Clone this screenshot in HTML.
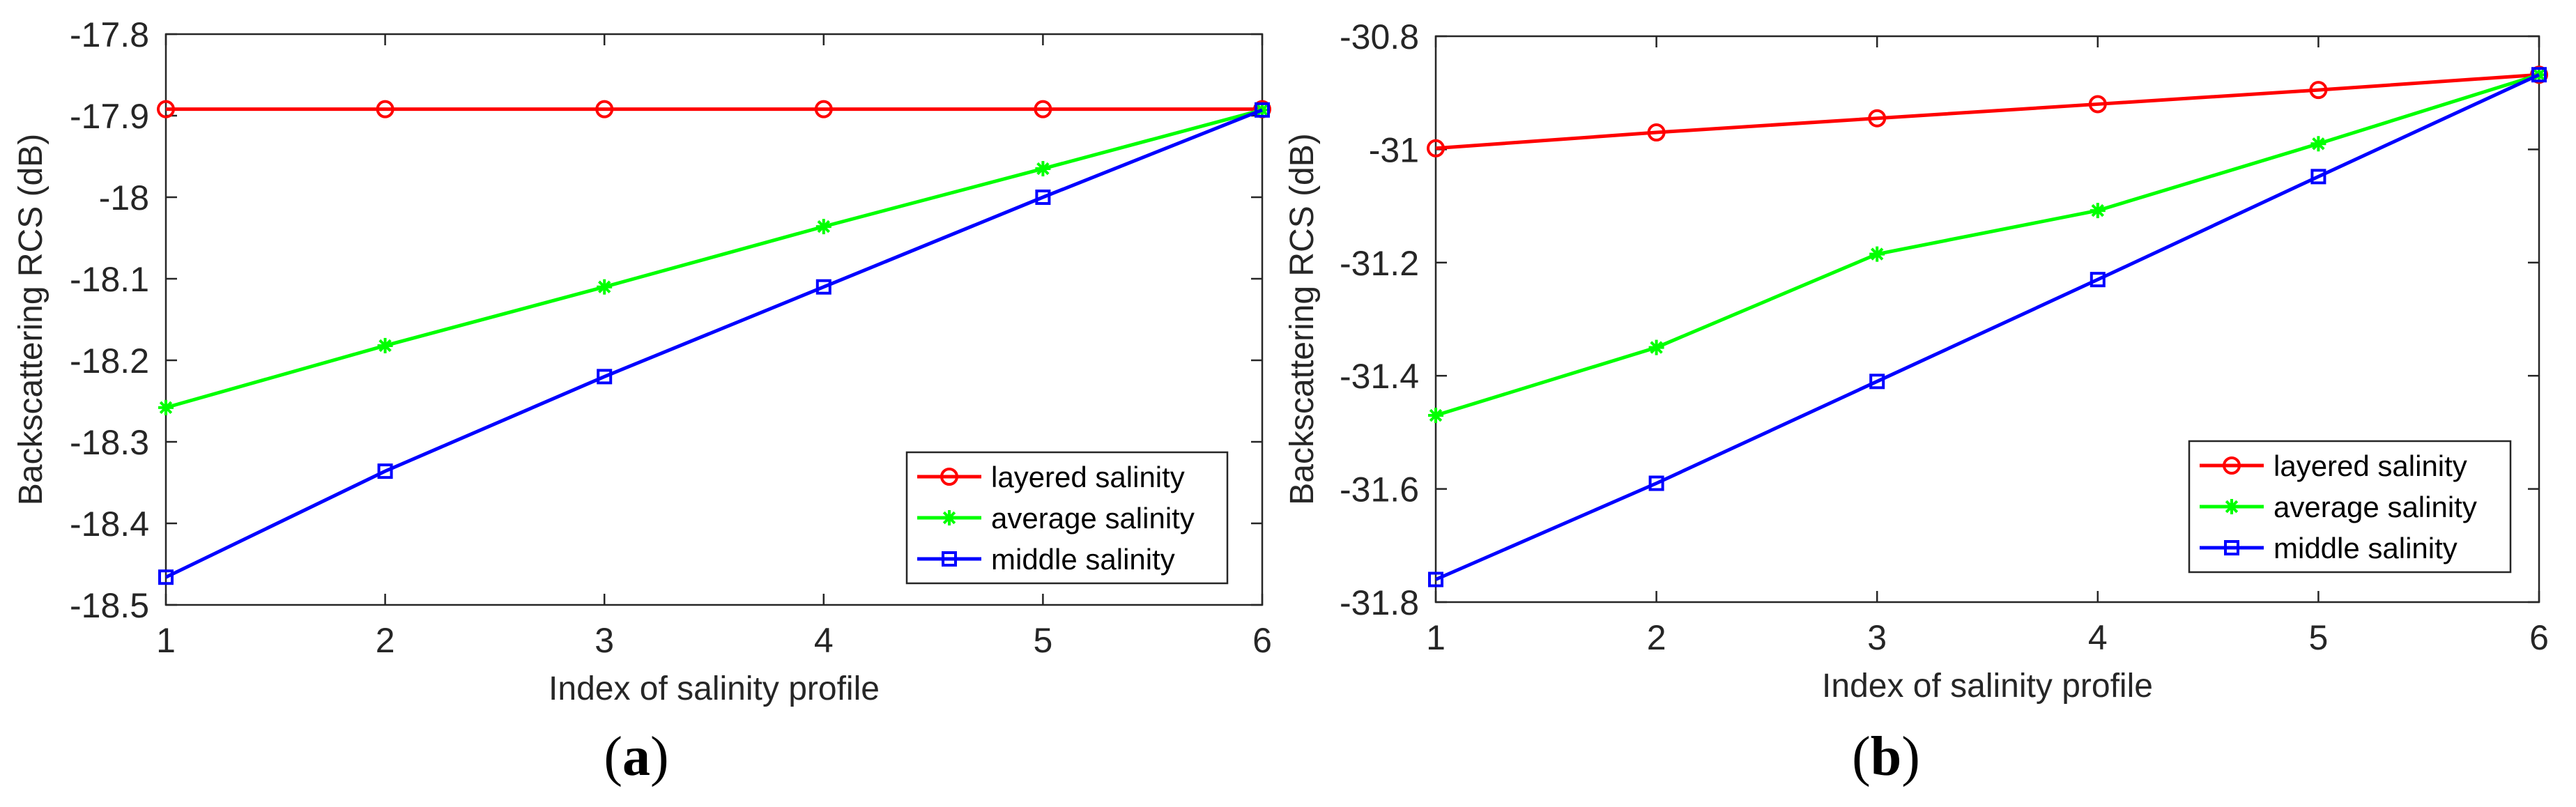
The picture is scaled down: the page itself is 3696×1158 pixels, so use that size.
<!DOCTYPE html>
<html><head><meta charset="utf-8"><style>
html,body{margin:0;padding:0;background:#fff;}
svg{display:block;font-family:"Liberation Sans",sans-serif;}
</style></head><body>
<svg id="fig" width="3696" height="1158" viewBox="0 0 3696 1158"></svg>
<script>
const categories=[1,2,3,4,5,6];
const aLayered=[-17.892,-17.892,-17.892,-17.892,-17.892,-17.892];
const aAverage=[-18.258,-18.182,-18.11,-18.036,-17.965,-17.893];
const aMiddle=[-18.466,-18.336,-18.22,-18.11,-18.0,-17.893];
const aTicks=[-17.8,-17.9,-18,-18.1,-18.2,-18.3,-18.4,-18.5];
const aTickLabels=["-17.8","-17.9","-18","-18.1","-18.2","-18.3","-18.4","-18.5"];
const bLayered=[-30.998,-30.97,-30.945,-30.92,-30.895,-30.868];
const bAverage=[-31.47,-31.35,-31.185,-31.108,-30.99,-30.868];
const bMiddle=[-31.76,-31.59,-31.41,-31.23,-31.048,-30.868];
const bTicks=[-30.8,-31,-31.2,-31.4,-31.6,-31.8];
const bTickLabels=["-30.8","-31","-31.2","-31.4","-31.6","-31.8"];
const seriesNames=["layered salinity","average salinity","middle salinity"];
const NS="http://www.w3.org/2000/svg";
const svg=document.getElementById('fig');
function mk(tag,attrs,parent){const e=document.createElementNS(NS,tag);for(const k in attrs)e.setAttribute(k,attrs[k]);(parent||svg).appendChild(e);return e;}
const colors=["#ff0000","#00ff00","#0000ff"];
function marker(g,kind,x,y,c){
  if(kind===0){const m=mk('circle',{cx:x,cy:y,r:11,fill:'none',stroke:c,'stroke-width':4},g);}
  else if(kind===1){for(let a=0;a<4;a++){const ang=a*Math.PI/4;const dx=11*Math.cos(ang),dy=11*Math.sin(ang);const m=mk('line',{x1:x-dx,y1:y-dy,x2:x+dx,y2:y+dy,stroke:c,'stroke-width':4},g);}}
  else {const m=mk('rect',{x:x-9,y:y-9,width:18,height:18,fill:'none',stroke:c,'stroke-width':4},g);}
}
function panel(o){
  const g=mk('g',{});
  
  
  const xs=v=>o.L+(v-1)/5*(o.R-o.L);
  const ys=v=>o.T+(o.ymax-v)/(o.ymax-o.ymin)*(o.B-o.T);
  const box=mk('rect',{x:o.L,y:o.T,width:o.R-o.L,height:o.B-o.T,fill:'none',stroke:'#262626','stroke-width':2.5},g);
  
  categories.forEach(c=>{const x=xs(c);
    mk('line',{x1:x,y1:o.B,x2:x,y2:o.B-16,stroke:'#262626','stroke-width':2.5},g);
    mk('line',{x1:x,y1:o.T,x2:x,y2:o.T+16,stroke:'#262626','stroke-width':2.5},g);
    const t=mk('text',{x:x,y:o.B+68,'font-size':50,'text-anchor':'middle',fill:'#262626'},g);t.textContent=c;
    });
  o.ticks.forEach((v,i)=>{const y=ys(v);
    mk('line',{x1:o.L,y1:y,x2:o.L+16,y2:y,stroke:'#262626','stroke-width':2.5},g);
    mk('line',{x1:o.R,y1:y,x2:o.R-16,y2:y,stroke:'#262626','stroke-width':2.5},g);
    const t=mk('text',{x:o.L-24,y:y+18,'font-size':50,'text-anchor':'end',fill:'#262626'},g);t.textContent=o.labels[i];
    });
  const xt=mk('text',{x:(o.L+o.R)/2,y:o.B+136,'font-size':48,'text-anchor':'middle',fill:'#262626'},g);xt.textContent='Index of salinity profile';
  
  const yt=mk('text',{x:0,y:0,'font-size':48,'text-anchor':'middle',fill:'#262626',transform:`translate(${o.ylx},${(o.T+o.B)/2}) rotate(-90)`},g);yt.textContent='Backscattering RCS (dB)';
  
  o.series.forEach((s,k)=>{
    const pl=mk('polyline',{points:s.map((v,i)=>xs(categories[i])+','+ys(v)).join(' '),fill:'none',stroke:colors[k],'stroke-width':5},g);
    
    s.forEach((v,i)=>marker(g,k,xs(categories[i]),ys(v),colors[k]));
  });
  const lg=mk('g',{},g);
  mk('rect',{x:o.lgx,y:o.lgy,width:o.lgw,height:188,fill:'#fff',stroke:'#262626','stroke-width':2.5},lg);
  seriesNames.forEach((n,k)=>{const y=o.lgy+35+k*59;
    mk('line',{x1:o.lgx+15,y1:y,x2:o.lgx+107,y2:y,stroke:colors[k],'stroke-width':5},lg);
    marker(lg,k,o.lgx+61,y,colors[k]);
    const t=mk('text',{x:o.lgx+121,y:y+15,'font-size':42,fill:'#000'},lg);t.textContent=n;
    });
  const c=mk('text',{x:o.capx,y:1112,'font-size':80,'text-anchor':'middle','font-family':'Liberation Serif, serif',fill:'#000'},g);
  c.innerHTML='(<tspan font-weight="bold">'+o.cap+'</tspan>)';
  
}
panel({name:'panel-a',L:238,R:1811,T:49,B:868,ymax:-17.8,ymin:-18.5,ticks:aTicks,labels:aTickLabels,series:[aLayered,aAverage,aMiddle],ylx:60,lgx:1301,lgy:649,lgw:460,capx:913,cap:'a'});
panel({name:'panel-b',L:2060,R:3643,T:52,B:864,ymax:-30.8,ymin:-31.8,ticks:bTicks,labels:bTickLabels,series:[bLayered,bAverage,bMiddle],ylx:1884,lgx:3141,lgy:633,lgw:461,capx:2706,cap:'b'});
</script>
</body></html>
